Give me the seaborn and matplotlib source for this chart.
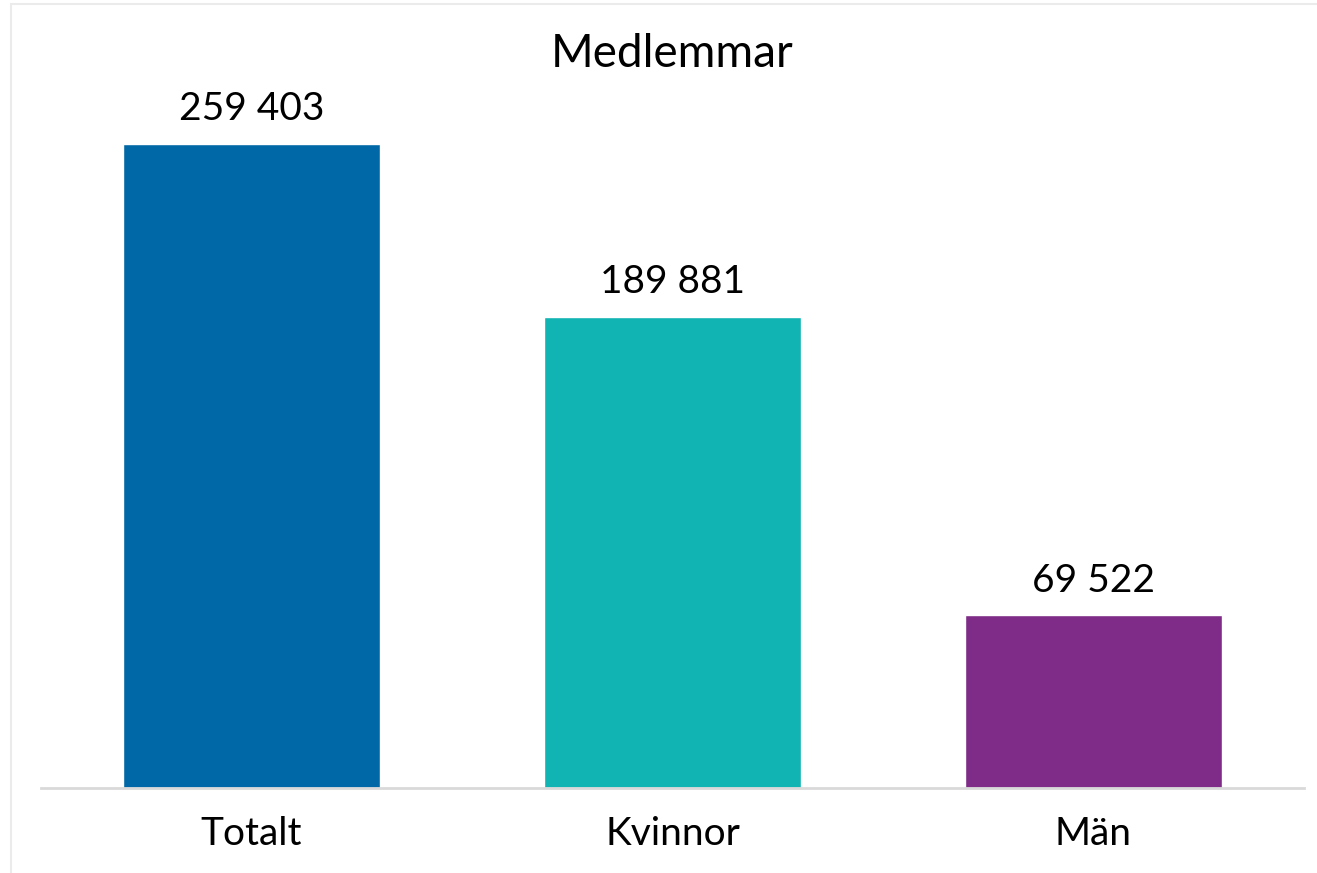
import matplotlib
matplotlib.use("Agg")
import matplotlib.pyplot as plt
import seaborn as sns
import pandas as pd
from matplotlib.patches import Rectangle

# Data
categories = ["Totalt", "Kvinnor", "Män"]
values = [259403, 189881, 69522]
colors = ["#0068A6", "#12B3B3", "#7E2C87"]

df = pd.DataFrame({"kategori": categories, "antal": values})

sns.set_style("white")
plt.rcParams["font.family"] = ["Lato", "DejaVu Sans"]

fig = plt.figure(figsize=(13.17, 8.73), dpi=100)
ax = fig.add_axes([0.0311, 0.0974, 0.9590, 0.7961])

sns.barplot(data=df, x="kategori", y="antal", hue="kategori", palette=colors,
            width=0.61, legend=False, saturation=1, ax=ax)

ax.set_ylim(0, 280000)
ax.set_xlim(-0.5, 2.5)

# value labels with space as thousands separator
for cont in ax.containers:
    ax.bar_label(cont, labels=[f"{int(round(v)):,}".replace(",", " ") for v in cont.datavalues],
                 padding=12, fontsize=28, color="black")

ax.set_title("Medlemmar", fontsize=33, pad=0, y=1.037, color="black")
ax.set_xlabel("")
ax.set_ylabel("")
ax.set_yticks([])
ax.tick_params(axis="x", length=0, labelsize=28, pad=20, colors="black")

for side in ["top", "right", "left"]:
    ax.spines[side].set_visible(False)
ax.spines["bottom"].set_color("#D9D9D9")
ax.spines["bottom"].set_linewidth(2)

# faint outer frame
fig.patches.append(Rectangle((11 / 1317, -0.01), 1.02, 1 - 4 / 873 + 0.01,
                             transform=fig.transFigure, fill=False,
                             edgecolor="#EBEBEB", linewidth=1.5))

fig.savefig("out.png", dpi=100)
